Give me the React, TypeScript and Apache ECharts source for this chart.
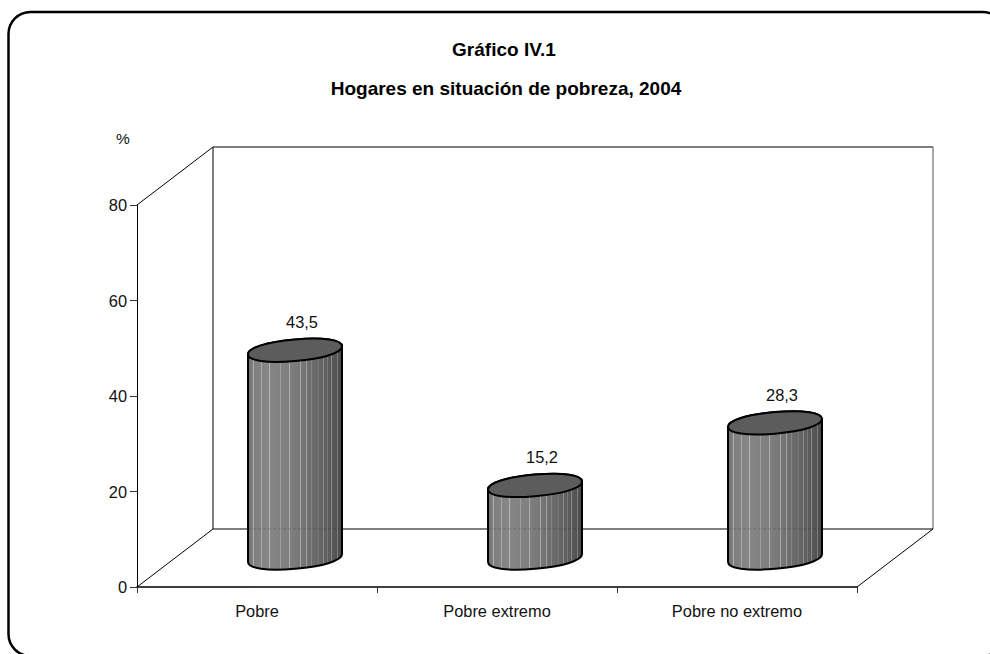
import React, { useEffect, useRef } from "react";
import * as echarts from "echarts";

const categories = ["Pobre", "Pobre extremo", "Pobre no extremo"];
const values = [43.5, 15.2, 28.3];
const valueLabels = ["43,5", "15,2", "28,3"];
const yTicks = { min: 0, max: 80, interval: 20 };
const title1 = "Gráfico IV.1";
const title2 = "Hogares en situación de pobreza, 2004";
const unit = "%";

const DX = 76;
const DY = -58;
const FONT = "'Liberation Sans', Arial, sans-serif";

// Cylinder shading: base tone from left to right, plus the thin light facets.
const shadeStops: [number, number][] = [[0, 0x6c], [0.04, 0x7e], [0.2, 0x86], [0.42, 0x80], [0.6, 0x74], [0.8, 0x62], [0.92, 0x56], [1, 0x48]];
const facets = [0.06, 0.14, 0.23, 0.35, 0.44, 0.56, 0.62, 0.68, 0.745, 0.8, 0.85, 0.89, 0.95];

const hex = (n: number) => {
  const h = Math.round(Math.min(255, n)).toString(16).padStart(2, "0");
  return `#${h}${h}${h}`;
};
const toneAt = (t: number) => {
  for (let i = 1; i < shadeStops.length; i++) {
    const [a, va] = shadeStops[i - 1];
    const [b, vb] = shadeStops[i];
    if (t <= b) return va + ((vb - va) * (t - a)) / (b - a);
  }
  return shadeStops[shadeStops.length - 1][1];
};
const buildStops = () => {
  const out: { offset: number; color: string }[] = shadeStops.map((s) => ({ offset: s[0], color: hex(s[1]) }));
  facets.forEach((f) => {
    const w = 0.006;
    out.push({ offset: f - w, color: hex(toneAt(f)) });
    out.push({ offset: f - w / 2, color: hex(toneAt(f) + 0x30) });
    out.push({ offset: f + w / 2, color: hex(toneAt(f) + 0x30) });
    out.push({ offset: f + w, color: hex(toneAt(f)) });
  });
  return out.sort((a, b) => a.offset - b.offset);
};

export default function App() {
  const ref = useRef<HTMLDivElement>(null);
  useEffect(() => {
    document.body.style.margin = "0";
    const chart = echarts.init(ref.current!, undefined, { renderer: "svg" });
    const ex = 47, ey = 4, ry = 10.8, k = 0.6;
    const stops = buildStops();
    chart.setOption({
      animation: false,
      backgroundColor: "#ffffff",
      grid: { left: 137, top: 205, width: 720, height: 382 },
      xAxis: {
        type: "category",
        data: categories,
        axisLine: { lineStyle: { color: "#000", width: 1.5 } },
        axisTick: { show: true, length: 6, alignWithLabel: false, lineStyle: { color: "#333" } },
        axisLabel: { color: "#111", fontFamily: FONT, fontSize: 16.4, margin: 16, interval: 0 },
      },
      yAxis: {
        type: "value",
        ...yTicks,
        axisLine: { show: true, lineStyle: { color: "#000" } },
        axisTick: { show: true, length: 7, lineStyle: { color: "#333" } },
        axisLabel: { color: "#111", fontFamily: FONT, fontSize: 16.4, margin: 10 },
        splitLine: { show: false },
      },
      graphic: [
        { type: "rect", z: -1, shape: { x: 8.5, y: 12, width: 996, height: 644, r: 22 }, style: { fill: "none", stroke: "#000", lineWidth: 2.5 } },
        { type: "text", x: 504, y: 49, style: { text: title1, fill: "#000", font: `bold 19px ${FONT}`, textAlign: "center", textVerticalAlign: "middle" } },
        { type: "text", x: 506, y: 88, style: { text: title2, fill: "#000", font: `bold 19px ${FONT}`, textAlign: "center", textVerticalAlign: "middle" } },
        { type: "text", x: 123, y: 138, style: { text: unit, fill: "#111", font: `15.5px ${FONT}`, textAlign: "center", textVerticalAlign: "middle" } },
      ],
      series: [
        {
          type: "custom",
          coordinateSystem: "cartesian2d",
          silent: true,
          z: 1,
          data: [0],
          renderItem: (_p: any, api: any) => {
            const size = api.size([1, 0]);
            const a = api.coord([0, 0]);
            const left = a[0] - size[0] / 2;
            const right = left + size[0] * categories.length;
            const bottom = a[1];
            const top = api.coord([0, yTicks.max])[1];
            const line = (x1: number, y1: number, x2: number, y2: number, c = "#000") => ({
              type: "line",
              shape: { x1, y1, x2, y2 },
              style: { stroke: c, lineWidth: 1 },
            });
            return {
              type: "group",
              children: [
                line(left, top, left + DX, top + DY),
                line(left + DX, top + DY, right + DX, top + DY),
                line(left + DX, top + DY, left + DX, bottom + DY),
                line(right + DX, top + DY, right + DX, bottom + DY, "#555"),
                line(left + DX, bottom + DY, right + DX, bottom + DY),
                line(left, bottom, left + DX, bottom + DY),
                line(right, bottom, right + DX, bottom + DY),
              ],
            };
          },
        },
        {
          type: "custom",
          coordinateSystem: "cartesian2d",
          silent: true,
          z: 2,
          data: values.map((v, i) => [i, v]),
          encode: { x: 0, y: 1 },
          renderItem: (p: any, api: any) => {
            const i = api.value(0);
            const base = api.coord([i, 0]);
            const topP = api.coord([i, api.value(1)]);
            const cx = base[0] + DX / 2;
            const by = base[1] + DY / 2;
            const ty = topP[1] + DY / 2;
            // A sheared ellipse keeps vertical tangents at its ends, so it meets the sides cleanly.
            const pt = (cy: number, u: number, v: number) => `${cx + u * ex} ${cy + v * ry - u * ey}`;
            const lower = (cy: number) =>
              `C${pt(cy, -1, k)} ${pt(cy, -k, 1)} ${pt(cy, 0, 1)} C${pt(cy, k, 1)} ${pt(cy, 1, k)} ${pt(cy, 1, 0)}`;
            const upperBack = (cy: number) =>
              `C${pt(cy, 1, -k)} ${pt(cy, k, -1)} ${pt(cy, 0, -1)} C${pt(cy, -k, -1)} ${pt(cy, -1, -k)} ${pt(cy, -1, 0)}`;
            const body = `M${pt(ty, -1, 0)} L${pt(by, -1, 0)} ${lower(by)} L${pt(ty, 1, 0)} ${upperBack(ty)} Z`;
            const cap = `M${pt(ty, -1, 0)} ${lower(ty)} ${upperBack(ty)} Z`;
            const wallY = base[1] + DY;
            return {
              type: "group",
              children: [
                {
                  type: "path",
                  shape: { pathData: body },
                  style: {
                    fill: new echarts.graphic.LinearGradient(0, 0, 1, 0, stops),
                    stroke: "#000",
                    lineWidth: 2,
                  },
                },
                ...(wallY > ty
                  ? [{
                      type: "line",
                      shape: { x1: cx - ex, y1: wallY, x2: cx + ex, y2: wallY },
                      style: { stroke: "rgba(0,0,0,0.18)", lineWidth: 1, lineDash: [3, 2] },
                    }]
                  : []),
                { type: "path", shape: { pathData: cap }, style: { fill: "#5c5c5c", stroke: "#000", lineWidth: 2 } },
                {
                  type: "text",
                  x: cx + 7,
                  y: ty - 28,
                  style: { text: valueLabels[p.dataIndex], fill: "#111", font: `16.4px ${FONT}`, textAlign: "center", textVerticalAlign: "middle" },
                },
              ],
            };
          },
        },
      ],
    });
    return () => chart.dispose();
  }, []);
  return <div ref={ref} style={{ position: "fixed", left: 0, top: 0, width: 990, height: 654 }} />;
}
